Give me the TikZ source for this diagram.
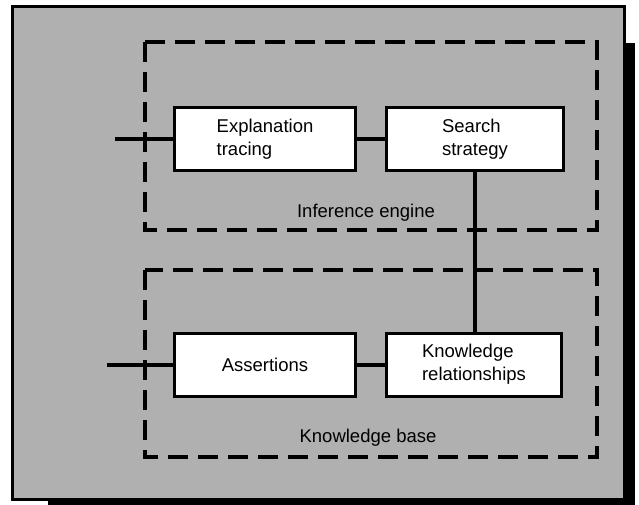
\documentclass[tikz,border=0pt]{standalone}
\usepackage{fontspec}
\setmainfont{Liberation Sans}
\usepackage{tikz}
\usetikzlibrary{positioning}

\definecolor{panel}{RGB}{176,176,176}

\begin{document}
\begin{tikzpicture}[
    x=1pt, y=-1pt,
    unit/.style  = {draw,line width=3pt,fill=white,minimum height=63pt,align=left,
                    font=\fontsize{18.5}{23}\selectfont},
    zone/.style  = {draw,line width=4.5pt,dash pattern=on 20pt off 10pt},
    tag/.style   = {font=\fontsize{18.5}{23}\selectfont},
    wire/.style  = {line width=4pt}
  ]
  \useasboundingbox (0,0) rectangle (639,505);

  % panel with its drop shadow
  \fill (48,43) rectangle (635,505);
  \draw[line width=3pt,fill=panel] (12,7) rectangle (624,499);

  % the two dashed groups
  \draw[zone] (145,42)  rectangle (597,230);
  \draw[zone] (145,270) rectangle (597,457);
  \node[tag] (ieng) at (366,213) {Inference engine};
  \node[tag] (kbase) at (368,438) {Knowledge base};

  % boxes
  \node[unit,minimum width=181pt] (expl)   at (265,139)   {Explanation\\tracing};
  \node[unit,minimum width=177pt] (search) at (475,139)   {Search\\strategy};
  \node[unit,minimum width=181pt] (assert) at (265,364.5) {Assertions};
  \node[unit,minimum width=175pt] (know)   at (474,364.5) {Knowledge\\relationships};

  % outside connections
  \coordinate (inE) at (115,139);
  \coordinate (inA) at (107,364.5);

  \draw[wire] (inE) -- (expl.west);
  \draw[wire] (inA) -- (assert.west);
  \draw[wire] (expl.east) -- (search.west);
  \draw[wire] (assert.east) -- (know.west);
  \draw[wire] (search.south) -- (search.south |- know.north);

\end{tikzpicture}
\end{document}
